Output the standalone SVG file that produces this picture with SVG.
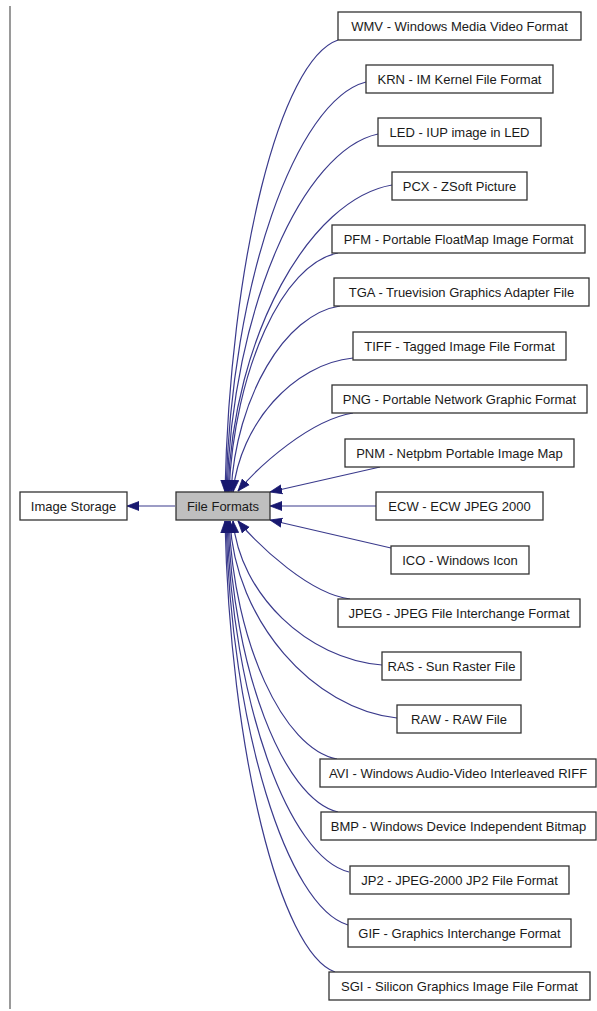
<svg xmlns="http://www.w3.org/2000/svg" width="597" height="1011" viewBox="0 0 597 1011">
<style>
.box{fill:#ffffff;stroke:#333333;stroke-width:1.3}
.cur{fill:#bfbfbf;stroke:#333333;stroke-width:1.3}
.lbl{font-family:"Liberation Sans",Arial,sans-serif;font-size:13px;fill:#1a1a1a;text-anchor:middle}
.edge{fill:none;stroke:#3a3a8c;stroke-width:1.2;marker-end:url(#ah)}
</style>
<defs>
<marker id="ah" markerUnits="userSpaceOnUse" markerWidth="14" markerHeight="12" refX="12" refY="5" orient="auto" viewBox="0 0 14 10">
<path d="M0,0.5 L12,5 L0,9.5 Z" fill="#191970" stroke="#191970" stroke-width="0.8"/>
</marker>
</defs>
<rect x="0" y="0" width="597" height="1011" fill="#ffffff"/>
<line x1="10" y1="6" x2="10" y2="1009" stroke="#808080" stroke-width="1.6"/>
<g id="connectors">
<path class="edge" d="M175,506 L127,506"/>
<path class="edge" d="M338,40 C280,60 230,260 225,492"/>
<path class="edge" d="M366,82 C296,100 231,283 226,492"/>
<path class="edge" d="M378,134 C303,150 232,309 227,492"/>
<path class="edge" d="M392,185 C310,199 233,335 228,492"/>
<path class="edge" d="M338,253 C283,263 234,370 229,492"/>
<path class="edge" d="M340,306 C285,314 236,397 231,492"/>
<path class="edge" d="M353,358 C293,364 240,424 233,492"/>
<path class="edge" d="M353,413 C310,420 260,465 238,491"/>
<path class="edge" d="M380,467 L270,492"/>
<path class="edge" d="M376,506 L270,506"/>
<path class="edge" d="M391,548 L270,520"/>
<path class="edge" d="M350,599 C310,594 260,547 238,521"/>
<path class="edge" d="M382,665 C307,659 240,594 233,521"/>
<path class="edge" d="M397,718 C313,709 235,621 230,521"/>
<path class="edge" d="M337,759 C283,749 234,642 229,521"/>
<path class="edge" d="M338,812 C283,799 233,669 228,521"/>
<path class="edge" d="M349,872 C288,857 232,700 227,521"/>
<path class="edge" d="M348,925 C287,907 231,727 226,521"/>
<path class="edge" d="M335,972 C280,952 230,751 225,521"/>
</g>
<g id="image-storage"><rect class="box" x="20" y="492" width="107" height="28"/><text class="lbl" x="73.5" y="511">Image Storage</text></g>
<g id="file-formats"><rect class="cur" x="176" y="492" width="94" height="28"/><text class="lbl" x="223" y="511">File Formats</text></g>
<g id="wmv"><rect class="box" x="338" y="12" width="243" height="28"/><text class="lbl" x="459.5" y="31">WMV - Windows Media Video Format</text></g>
<g id="krn"><rect class="box" x="366" y="65" width="187" height="28"/><text class="lbl" x="459.5" y="84">KRN - IM Kernel File Format</text></g>
<g id="led"><rect class="box" x="378" y="118" width="163" height="28"/><text class="lbl" x="459.5" y="137">LED - IUP image in LED</text></g>
<g id="pcx"><rect class="box" x="392" y="172" width="135" height="28"/><text class="lbl" x="459.5" y="191">PCX - ZSoft Picture</text></g>
<g id="pfm"><rect class="box" x="332" y="225" width="253" height="28"/><text class="lbl" x="458.5" y="244">PFM - Portable FloatMap Image Format</text></g>
<g id="tga"><rect class="box" x="334" y="278" width="255" height="28"/><text class="lbl" x="461.5" y="297">TGA - Truevision Graphics Adapter File</text></g>
<g id="tiff"><rect class="box" x="353" y="332" width="213" height="28"/><text class="lbl" x="459.5" y="351">TIFF - Tagged Image File Format</text></g>
<g id="png"><rect class="box" x="332" y="385" width="255" height="28"/><text class="lbl" x="459.5" y="404">PNG - Portable Network Graphic Format</text></g>
<g id="pnm"><rect class="box" x="345" y="439" width="229" height="28"/><text class="lbl" x="459.5" y="458">PNM - Netpbm Portable Image Map</text></g>
<g id="ecw"><rect class="box" x="376" y="492" width="167" height="28"/><text class="lbl" x="459.5" y="511">ECW - ECW JPEG 2000</text></g>
<g id="ico"><rect class="box" x="391" y="546" width="138" height="28"/><text class="lbl" x="460" y="565">ICO - Windows Icon</text></g>
<g id="jpeg"><rect class="box" x="338" y="599" width="242" height="28"/><text class="lbl" x="459" y="618">JPEG - JPEG File Interchange Format</text></g>
<g id="ras"><rect class="box" x="382" y="652" width="139" height="28"/><text class="lbl" x="451.5" y="671">RAS - Sun Raster File</text></g>
<g id="raw"><rect class="box" x="397" y="705" width="124" height="28"/><text class="lbl" x="459" y="724">RAW - RAW File</text></g>
<g id="avi"><rect class="box" x="320" y="759" width="276" height="28"/><text class="lbl" x="458" y="778">AVI - Windows Audio-Video Interleaved RIFF</text></g>
<g id="bmp"><rect class="box" x="321" y="812" width="275" height="28"/><text class="lbl" x="458.5" y="831">BMP - Windows Device Independent Bitmap</text></g>
<g id="jp2"><rect class="box" x="350" y="866" width="219" height="28"/><text class="lbl" x="459.5" y="885">JP2 - JPEG-2000 JP2 File Format</text></g>
<g id="gif"><rect class="box" x="348" y="919" width="223" height="28"/><text class="lbl" x="459.5" y="938">GIF - Graphics Interchange Format</text></g>
<g id="sgi"><rect class="box" x="329" y="972" width="261" height="28"/><text class="lbl" x="459.5" y="991">SGI - Silicon Graphics Image File Format</text></g>
</svg>
